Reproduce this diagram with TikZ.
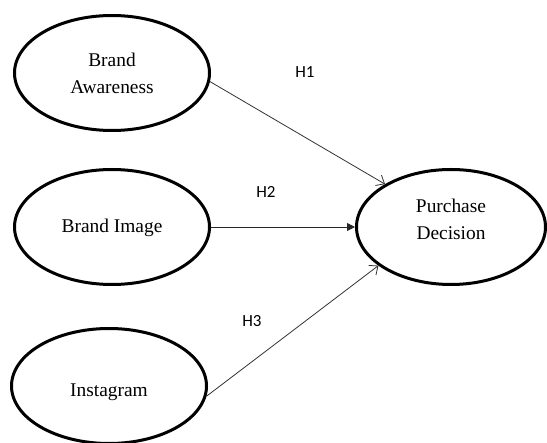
\documentclass[tikz,border=0pt]{standalone}
\usepackage{fontspec}
\setmainfont{Liberation Serif}
\newfontfamily\labelfont{Carlito}
\usetikzlibrary{shapes.geometric,arrows.meta}
\begin{document}
\begin{tikzpicture}[x=1pt,y=-1pt,
  ell/.style={ellipse,draw=black,line width=3pt,inner sep=0pt,
    minimum width=195pt,minimum height=115pt},
  nodetext/.style={font=\fontsize{19.4}{27}\selectfont,align=center,inner sep=0pt},
  hyplabel/.style={font=\labelfont\fontsize{17}{20}\selectfont,inner sep=0pt},
  openarrow/.style={draw=black!80,line width=0.8pt,-{Straight Barb[length=7pt,width=12pt]}},
  fillarrow/.style={draw=black!85,line width=0.9pt,-{Triangle[length=8pt,width=8pt]}}]
\useasboundingbox (0,0) rectangle (547,443);
\fill[white] (0,0) rectangle (547,443);

\node[ell] (ba) at (112,73) {};
\node[ell] (bi) at (112,227) {};
\node[ell] (ig) at (109,386) {};
\node[ell,minimum width=189pt] (pd) at (451,227) {};

\node[nodetext] (bat) at (112,73) {Brand\\Awareness};
\node[nodetext] (bit) at (112,228) {Brand Image};
\node[nodetext] (igt) at (109,392) {Instagram};
\node[nodetext] (pdt) at (451,219) {Purchase\\Decision};

\draw[openarrow] (ba.-5) -- (pd.147);
\draw[fillarrow] (bi.east) -- (pd.west);
\draw[openarrow] (ig.-6) -- (pd.208);

\node[hyplabel] (h1) at (305,72) {H1};
\node[hyplabel] (h2) at (266,192) {H2};
\node[hyplabel] (h3) at (252,321) {H3};
\end{tikzpicture}
\end{document}
